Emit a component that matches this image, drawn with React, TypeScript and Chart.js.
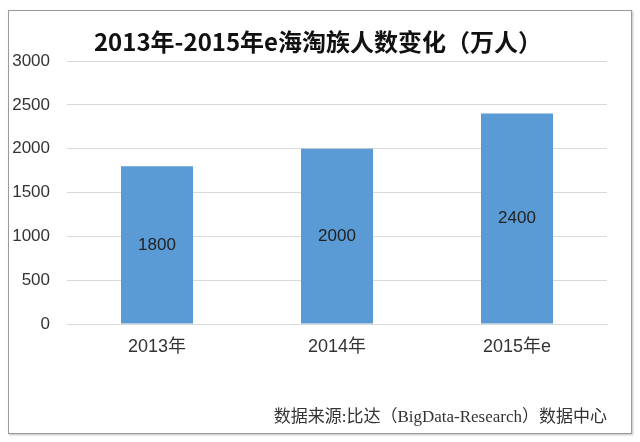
import React, { useEffect, useRef } from "react";
import { Chart, registerables } from "chart.js";

Chart.register(...registerables);

const categories = ["2013年", "2014年", "2015年e"];
const values = [1800, 2000, 2400];
const titleText = "2013年-2015年e海淘族人数变化（万人）";
const sourceText = "数据来源:比达（BigData-Research）数据中心";

const valueLabelPlugin = {
  id: "valueLabels",
  afterDatasetsDraw(chart: any) {
    const ctx = chart.ctx;
    const meta = chart.getDatasetMeta(0);
    ctx.save();
    ctx.font = "17px 'Liberation Sans', Arial, sans-serif";
    ctx.fillStyle = "#222";
    ctx.textAlign = "center";
    ctx.textBaseline = "middle";
    meta.data.forEach((bar: any, i: number) => {
      const mid = (bar.y + bar.base) / 2;
      ctx.fillText(String(values[i]), bar.x, mid);
    });
    ctx.restore();
  },
};

const titlePlugin = {
  id: "customTitle",
  afterDraw(chart: any) {
    const ctx = chart.ctx;
    ctx.save();
    ctx.font = "bold 24px 'Noto Sans CJK SC', sans-serif";
    ctx.fillStyle = "#111";
    ctx.textAlign = "center";
    ctx.textBaseline = "middle";
    ctx.fillText(titleText, 318, 42);
    ctx.restore();
  },
};

export default function App() {
  const ref = useRef<HTMLCanvasElement | null>(null);
  useEffect(() => {
    if (!ref.current) return;
    const chart = new Chart(ref.current, {
      type: "bar",
      data: {
        labels: categories,
        datasets: [
          {
            data: values,
            backgroundColor: "#5B9BD5",
            barPercentage: 0.4,
            categoryPercentage: 1,
          },
        ],
      },
      options: {
        animation: false,
        responsive: false,
        maintainAspectRatio: false,
        layout: { padding: { left: 10, right: 33, top: 61, bottom: 0 } },
        plugins: {
          legend: { display: false },
          tooltip: { enabled: false },
          title: { display: false },
          subtitle: {
            display: true,
            text: sourceText,
            position: "bottom",
            align: "end",
            color: "#333",
            font: { family: "'Liberation Serif', 'Noto Sans CJK SC', serif", size: 17 },
            padding: { top: 38, bottom: 14 },
          },
        },
        scales: {
          x: {
            grid: { display: false, drawTicks: false },
            border: { display: true, color: "#d9d9d9" },
            ticks: {
              color: "#333",
              font: { family: "'Liberation Sans', Arial, 'Noto Sans CJK SC', sans-serif", size: 18 },
              padding: 12,
            },
          },
          y: {
            min: 0,
            max: 3000,
            afterFit(scale: any) {
              scale.width = 57;
            },
            grid: { color: "#d9d9d9", drawTicks: false },
            border: { display: false },
            ticks: {
              stepSize: 500,
              color: "#333",
              font: { family: "'Liberation Sans', Arial, sans-serif", size: 17 },
              padding: 17,
              callback: (v: any) => String(v),
            },
          },
        },
      },
      plugins: [valueLabelPlugin, titlePlugin],
    });
    return () => chart.destroy();
  }, []);
  return (
    <div style={{ position: "fixed", left: 0, top: 0, width: 640, height: 442, background: "#fff" }}>
      <div
        style={{
          position: "absolute",
          left: 8,
          top: 10,
          width: 622,
          height: 422,
          border: "1px solid #9a9a9a",
          boxShadow: "1px 1px 2px rgba(0,0,0,0.25)",
        }}
      />
      <canvas ref={ref} width={640} height={442} style={{ position: "absolute", left: 0, top: 0 }} />
    </div>
  );
}
